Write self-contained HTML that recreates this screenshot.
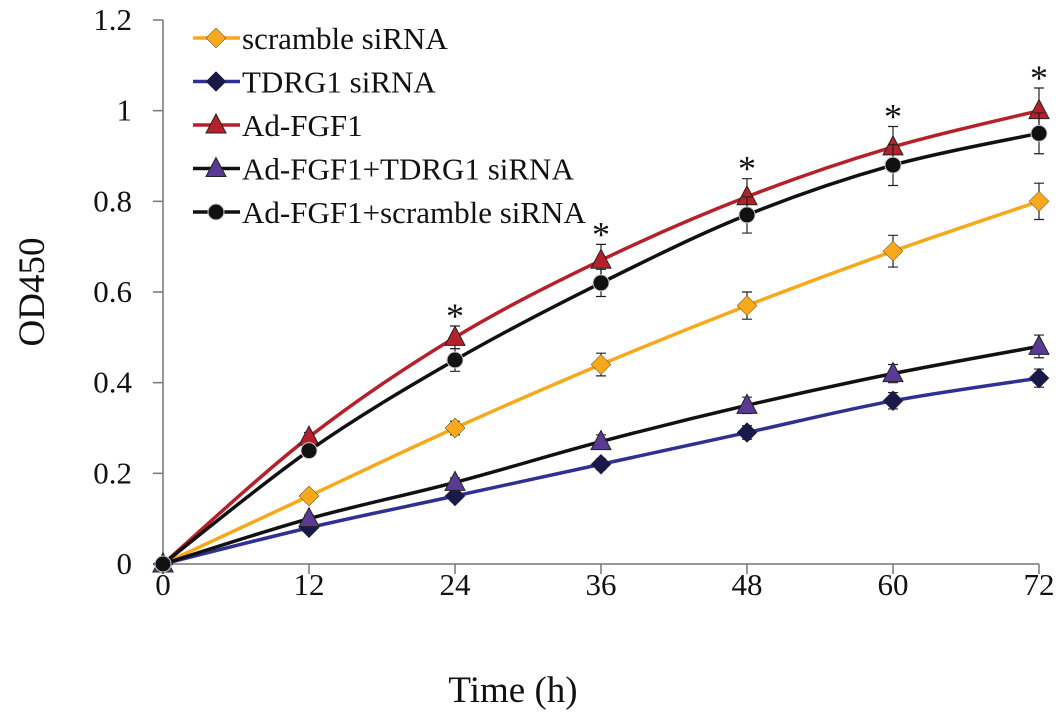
<!DOCTYPE html>
<html><head><meta charset="utf-8"><style>
body{margin:0;background:#fff}
svg text{font-family:"Liberation Serif",serif;fill:#111}
</style></head><body>
<svg width="1063" height="720">
<g id="axes"></g><g id="plot"></g><g id="legend"></g>
</svg>
<script>
const hours=[0,12,24,36,48,60,72];
const yTicks=[0,0.2,0.4,0.6,0.8,1,1.2];
const yTickLabels=["0","0.2","0.4","0.6","0.8","1","1.2"];
const scrambleVals=[0,0.15,0.30,0.44,0.57,0.69,0.80];
const tdrgVals=[0,0.08,0.15,0.22,0.29,0.36,0.41];
const fgfVals=[0,0.28,0.50,0.67,0.81,0.92,1.00];
const fgfTdrgVals=[0,0.10,0.18,0.27,0.35,0.42,0.48];
const fgfScrVals=[0,0.25,0.45,0.62,0.77,0.88,0.95];
const scrambleErr=[0,0.01,0.015,0.025,0.03,0.035,0.04];
const tdrgErr=[0,0.008,0.01,0.012,0.015,0.018,0.02];
const fgfErr=[0,0.01,0.025,0.035,0.04,0.045,0.05];
const fgfTdrgErr=[0,0.008,0.01,0.015,0.018,0.02,0.025];
const fgfScrErr=[0,0.01,0.025,0.03,0.04,0.045,0.045];
const starHours=[24,36,48,60,72];

const NS="http://www.w3.org/2000/svg";
const X0=163,X1=1039,Y0=564,Y1=20;
const xs=h=>X0+(h-0)/(72-0)*(X1-X0);
const ys=v=>Y0-(v-0)/1.2*(Y0-Y1);
function mk(tag,attrs,parent,txt){const e=document.createElementNS(NS,tag);for(const k in attrs)e.setAttribute(k,attrs[k]);if(txt!=null)e.textContent=txt;document.getElementById(parent).appendChild(e);return e;}

let e=mk('line',{x1:X0,y1:Y1,x2:X0,y2:Y0,stroke:'#777','stroke-width':1.5},'axes');


e=mk('line',{x1:X0,y1:Y0,x2:X1,y2:Y0,stroke:'#777','stroke-width':1.5},'axes');


yTicks.forEach((v,i)=>{
 mk('line',{x1:X0-10,y1:ys(v),x2:X0,y2:ys(v),stroke:'#777','stroke-width':1.5},'axes');
 const t=mk('text',{x:X0-31,y:ys(v)+10,'text-anchor':'end','font-size':31},'axes',yTickLabels[i]);
 
 
});
hours.forEach(h=>{
 mk('line',{x1:xs(h),y1:Y0,x2:xs(h),y2:Y0+10,stroke:'#777','stroke-width':1.5},'axes');
 const t=mk('text',{x:xs(h),y:Y0+31,'text-anchor':'middle','font-size':31},'axes',String(h));
 
 
});
e=mk('text',{x:513,y:702,'text-anchor':'middle','font-size':37},'axes','Time (h)');


e=mk('text',{x:0,y:0,'text-anchor':'middle','font-size':37,transform:'translate(44,292) rotate(-90)'},'axes','OD450');



function smooth(pts){let d=`M${pts[0][0]},${pts[0][1]}`;for(let i=0;i<pts.length-1;i++){const p0=pts[i-1]||pts[i],p1=pts[i],p2=pts[i+1],p3=pts[i+2]||p2;const c1=[p1[0]+(p2[0]-p0[0])/6,p1[1]+(p2[1]-p0[1])/6],c2=[p2[0]-(p3[0]-p1[0])/6,p2[1]-(p3[1]-p1[1])/6];d+=`C${c1[0]},${c1[1]} ${c2[0]},${c2[1]} ${p2[0]},${p2[1]}`;}return d;}
function marker(type,x,y,fill,parent){
 if(type==='diamond')return mk('path',{d:`M${x},${y-10}L${x+10},${y}L${x},${y+10}L${x-10},${y}Z`,fill:fill,stroke:'#222','stroke-width':0.5},parent);
 if(type==='tri')return mk('path',{d:`M${x},${y-11}L${x+10},${y+8}L${x-10},${y+8}Z`,fill:fill,stroke:'#222','stroke-width':1},parent);
 return mk('circle',{cx:x,cy:y,r:8,fill:fill,stroke:'#ccc','stroke-width':1},parent);
}
const series=[
 {name:'scramble siRNA',vals:scrambleVals,err:scrambleErr,line:'#f7a81b',mfill:'#f7a81b',m:'diamond',key:'scramble'},
 {name:'TDRG1 siRNA',vals:tdrgVals,err:tdrgErr,line:'#2e3192',mfill:'#1a1a4a',m:'diamond',key:'tdrg1'},
 {name:'Ad-FGF1',vals:fgfVals,err:fgfErr,line:'#b5202a',mfill:'#b5202a',m:'tri',key:'ad-fgf1'},
 {name:'Ad-FGF1+TDRG1 siRNA',vals:fgfTdrgVals,err:fgfTdrgErr,line:'#111',mfill:'#5b3a93',m:'tri',key:'ad-fgf1-tdrg1'},
 {name:'Ad-FGF1+scramble siRNA',vals:fgfScrVals,err:fgfScrErr,line:'#111',mfill:'#111',m:'circle',key:'ad-fgf1-scramble'}
];
series.forEach(s=>{
 const pts=hours.map((h,i)=>[xs(h),ys(s.vals[i])]);
 hours.forEach((h,i)=>{if(!s.err[i])return;const x=xs(h),yt=ys(s.vals[i]+s.err[i]),yb=ys(s.vals[i]-s.err[i]);
  mk('path',{d:`M${x},${yt}V${yb}M${x-5},${yt}H${x+5}M${x-5},${yb}H${x+5}`,stroke:'#222','stroke-width':1.2,fill:'none'},'plot');});
 const p=mk('path',{d:smooth(pts),fill:'none',stroke:s.line,'stroke-width':3.5},'plot');
 
 
 pts.forEach(pt=>{const m=marker(s.m,pt[0],pt[1],s.mfill,'plot');
  
  });
});
starHours.forEach(h=>{const i=hours.indexOf(h);
 const t=mk('text',{x:xs(h),y:ys(fgfVals[i]+fgfErr[i])+2,'text-anchor':'middle','font-size':36},'plot','*');
 
 });
series.forEach((s,i)=>{
 const y=38+i*43.5;
 mk('line',{x1:193,y1:y,x2:240,y2:y,stroke:s.line,'stroke-width':3.5},'legend');
 marker(s.m,216,y,s.mfill,'legend');
 const t=mk('text',{x:242,y:y+11,'font-size':31},'legend',s.name);
 
 
});
</script>
</body></html>
